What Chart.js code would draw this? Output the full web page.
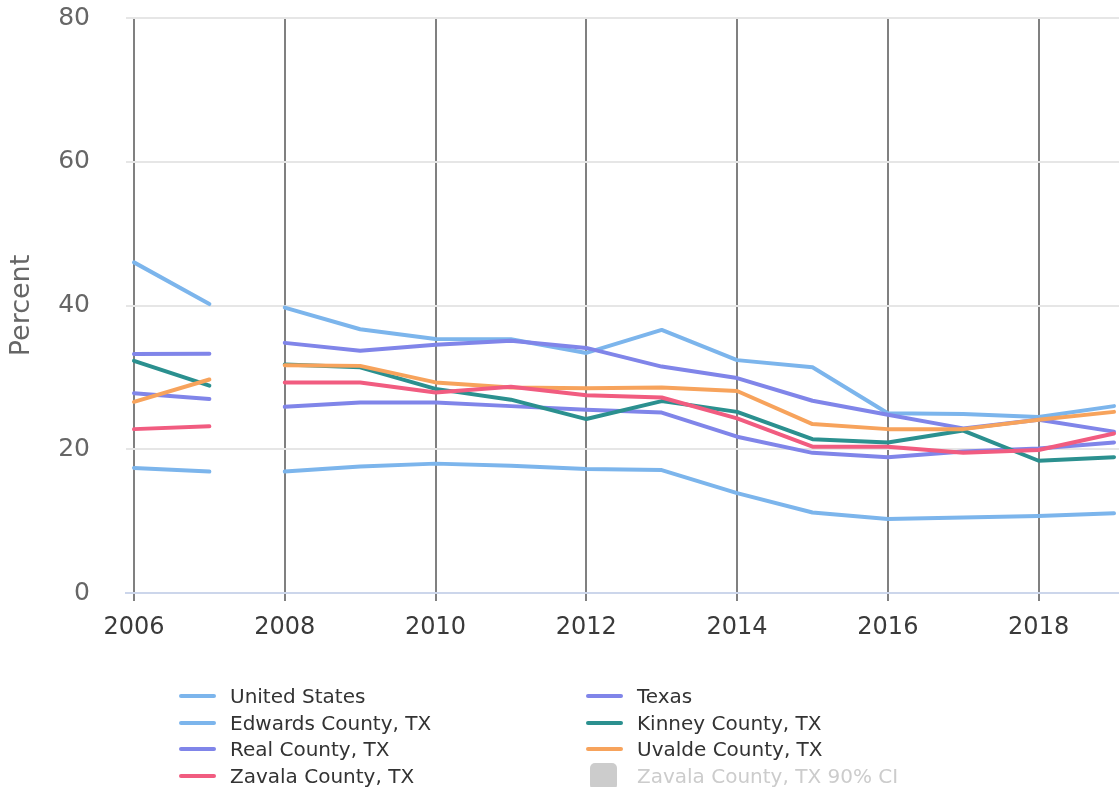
<!DOCTYPE html>
<html>
<head>
<meta charset="utf-8">
<script src="https://cdn.jsdelivr.net/npm/chart.js@4/dist/chart.umd.min.js"></script>
<style>
  html, body { margin: 0; padding: 0; background: #ffffff; }
  #wrap { position: relative; width: 1119px; height: 787px; overflow: hidden; }
  #c { position: absolute; left: 0; top: 0; }
  .lg { position: absolute; font-family: "DejaVu Sans", sans-serif; font-size: 20px; color: #333333; white-space: nowrap; line-height: 24px; }
  .lg .mk { position: absolute; left: 0; top: 10px; width: 37px; height: 4px; border-radius: 2px; }
  .lg .sq { position: absolute; left: 4px; top: -1px; width: 27px; height: 27px; border-radius: 5px; background: #cccccc; }
  .lg .tx { position: absolute; left: 51px; top: 0; }
</style>
</head>
<body>
<div id="wrap">
  <canvas id="c" width="1119" height="787"></canvas>
  <div id="legend"></div>
</div>
<script>
// ---- data ----
const years = [2006, 2007, 2008, 2009, 2010, 2011, 2012, 2013, 2014, 2015, 2016, 2017, 2018, 2019];
const gapAfterYear = 2007; // no line segment between 2007 and 2008
const xTickLabels = [2006, 2008, 2010, 2012, 2014, 2016, 2018];
const yTickLabels = [0, 20, 40, 60, 80];

const unitedStates = [17.4, 16.9, 16.9, 17.6, 18.0, 17.7, 17.25, 17.1, 13.9, 11.2, 10.3, 10.5, 10.7, 11.1];
const texas        = [27.8, 27.0, 25.9, 26.5, 26.5, 26.0, 25.5, 25.1, 21.75, 19.5, 18.9, 19.7, 20.1, 20.95];
const edwards      = [46.0, 40.2, 39.7, 36.7, 35.35, 35.3, 33.4, 36.6, 32.4, 31.4, 25.0, 24.9, 24.5, 26.0];
const kinney       = [32.3, 28.85, 31.8, 31.4, 28.4, 26.9, 24.2, 26.7, 25.2, 21.4, 20.95, 22.6, 18.4, 18.9];
const real         = [33.25, 33.3, 34.8, 33.7, 34.55, 35.1, 34.1, 31.5, 29.9, 26.75, 24.8, 22.9, 24.1, 22.45];
const uvalde       = [26.6, 29.7, 31.7, 31.6, 29.3, 28.6, 28.5, 28.6, 28.1, 23.5, 22.8, 22.8, 24.1, 25.2];
const zavala       = [22.8, 23.2, 29.3, 29.3, 27.9, 28.7, 27.5, 27.2, 24.3, 20.35, 20.35, 19.5, 19.9, 22.2];
const zavalaCI     = []; // hidden in the reference

const seriesNames = ["United States", "Texas", "Edwards County, TX", "Kinney County, TX",
                     "Real County, TX", "Uvalde County, TX", "Zavala County, TX", "Zavala County, TX 90% CI"];
const seriesValues = [unitedStates, texas, edwards, kinney, real, uvalde, zavala, zavalaCI];
const seriesColors = ["#7cb5ec", "#8085e9", "#7cb5ec", "#2b908f", "#8085e9", "#f7a35c", "#f15c80", "#cccccc"];

// ---- chart ----
const FONT = "'DejaVu Sans', sans-serif";
const N = seriesNames.length;

const datasets = seriesNames.map((name, i) => ({
  label: name,
  data: seriesValues[i].map((v, k) => ({ x: years[k], y: v })),
  borderColor: seriesColors[i],
  backgroundColor: seriesColors[i],
  borderWidth: 4,
  pointRadius: 0,
  pointHoverRadius: 0,
  tension: 0,
  fill: false,
  borderJoinStyle: 'round',
  borderCapStyle: 'round',
  hidden: i === N - 1,
  order: N - i,
  segment: {
    borderColor: ctx => (ctx.p0.parsed.x === gapAfterYear ? 'rgba(0,0,0,0)' : undefined)
  }
}));

const chart = new Chart(document.getElementById('c'), {
  type: 'line',
  data: { datasets },
  options: {
    responsive: false,
    animation: false,
    devicePixelRatio: 1,
    layout: { padding: { top: 18, right: 0, bottom: 0, left: 0 } },
    plugins: { legend: { display: false }, tooltip: { enabled: false } },
    scales: {
      x: {
        type: 'linear',
        min: 2005.894,
        max: 2019.066,
        afterBuildTicks: s => { s.ticks = xTickLabels.map(v => ({ value: v })); },
        afterFit: s => { s.height = 787 - 593; },
        grid: { color: '#808080', lineWidth: 2, tickLength: 8, drawOnChartArea: true },
        border: { display: true, color: '#ccd6eb', width: 2 },
        ticks: {
          color: '#3a3a3a',
          font: { family: FONT, size: 24 },
          padding: 12,
          maxRotation: 0,
          callback: v => String(v)
        }
      },
      y: {
        min: 0,
        max: 80,
        afterBuildTicks: s => { s.ticks = yTickLabels.map(v => ({ value: v })); },
        afterFit: s => { s.width = 126; },
        grid: { color: '#e6e6e6', lineWidth: 2, drawTicks: true, tickLength: 33, tickColor: 'rgba(0,0,0,0)' },
        border: { display: false },
        ticks: {
          color: '#666666',
          font: { family: FONT, size: 25 },
          padding: 3
        },
        title: {
          display: true,
          text: 'Percent',
          color: '#666666',
          font: { family: FONT, size: 27 },
          padding: { top: 6, bottom: 0 }
        }
      }
    }
  }
});

// ---- legend (HTML, built from the chart's datasets) ----
const legend = document.getElementById('legend');
const colX = [179, 586];
const rowY = [684, 710.5, 737, 763.5];
chart.data.datasets.forEach((ds, i) => {
  const col = i % 2, row = Math.floor(i / 2);
  const item = document.createElement('div');
  item.className = 'lg';
  item.style.left = colX[col] + 'px';
  item.style.top = rowY[row] + 'px';
  if (ds.hidden) {
    item.innerHTML = '<div class="sq"></div><div class="tx" style="color:#cccccc">' + ds.label + '</div>';
  } else {
    item.innerHTML = '<div class="mk" style="background:' + ds.borderColor + '"></div><div class="tx">' + ds.label + '</div>';
  }
  legend.appendChild(item);
});
</script>
</body>
</html>
